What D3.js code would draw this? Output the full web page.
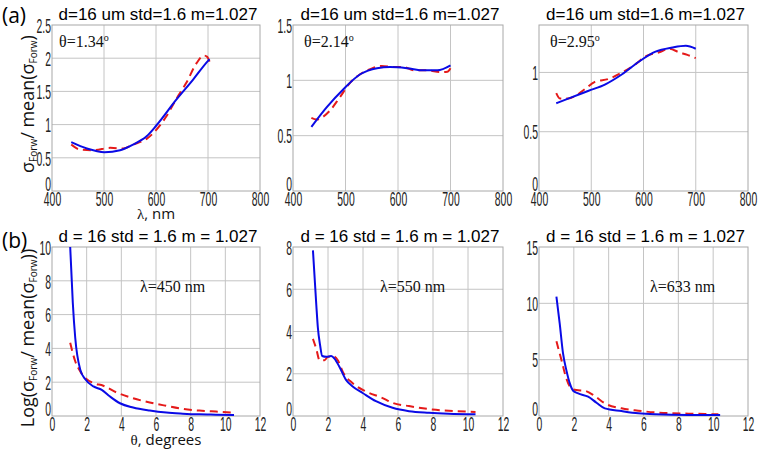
<!DOCTYPE html>
<html><head><meta charset="utf-8">
<script src="https://cdn.jsdelivr.net/npm/d3@7"></script>
<style>
body{margin:0;background:#fff;}
svg{display:block;}
</style></head>
<body>
<script>
// ---------- data ----------
const titleTop = "d=16 um std=1.6 m=1.027";
const titleBottom = "d = 16 std = 1.6 m = 1.027";
const lambdaTicks = [400, 500, 600, 700, 800];
const thetaTicks = [0, 2, 4, 6, 8, 10, 12];
const yTicksA1 = [0, 0.5, 1, 1.5, 2, 2.5];
const yTicksA2 = [0, 0.5, 1, 1.5];
const yTicksA3 = [0, 0.5, 1];
const yTicksB1 = [0, 2, 4, 6, 8, 10];
const yTicksB2 = [0, 2, 4, 6, 8];
const yTicksB3 = [0, 5, 10, 15];
const annotA = ["1.34", "2.14", "2.95"];
const annotB = ["450", "550", "633"];

// (a) theta = 1.34
const blueLamA1 = [437, 467, 501, 531, 556, 582, 601, 639, 671, 700, 703];
const blueA1 = [0.735, 0.64, 0.585, 0.615, 0.70, 0.825, 0.99, 1.375, 1.675, 1.96, 1.985];
const redLamA1 = [437, 454, 480, 512, 537, 556, 582, 601, 620, 639, 658, 678, 692, 698, 703];
const redA1 = [0.70, 0.625, 0.615, 0.65, 0.64, 0.70, 0.785, 0.925, 1.125, 1.385, 1.625, 1.925, 2.04, 2.025, 1.95];
// (a) theta = 2.14
const blueLamA2 = [435, 464, 496, 528, 560, 585, 617, 649, 675, 700];
const blueA2 = [0.58, 0.756, 0.92, 1.055, 1.11, 1.12, 1.11, 1.09, 1.09, 1.135];
const redLamA2 = [435, 445, 457, 470, 489, 509, 528, 547, 569, 592, 611, 630, 656, 681, 694, 700];
const redA2 = [0.66, 0.645, 0.67, 0.725, 0.845, 0.98, 1.055, 1.10, 1.13, 1.12, 1.12, 1.09, 1.09, 1.075, 1.078, 1.11];
// (a) theta = 2.95
const blueLamA3 = [433, 462, 495, 527, 559, 591, 623, 655, 681, 700];
const blueA3 = [0.74, 0.79, 0.845, 0.90, 0.985, 1.09, 1.175, 1.21, 1.225, 1.20];
const redLamA3 = [433, 440, 456, 469, 488, 507, 533, 559, 585, 604, 630, 649, 668, 684, 700];
const redA3 = [0.825, 0.78, 0.78, 0.80, 0.86, 0.92, 0.945, 1.0, 1.07, 1.136, 1.17, 1.20, 1.17, 1.148, 1.12];

// (b) lambda = 450
const blueThB1 = [1.05, 1.2, 1.34, 1.63, 1.91, 2.39, 2.87, 3.35, 3.92, 4.68, 5.64, 6.6, 7.55, 8.5, 9.46, 10.5];
const blueB1 = [10.0, 6.7, 4.63, 2.74, 2.19, 1.75, 1.55, 1.15, 0.755, 0.50, 0.32, 0.2, 0.14, 0.10, 0.08, 0.06];
const redThB1 = [1.05, 1.34, 1.63, 1.91, 2.39, 2.96, 3.73, 4.68, 5.64, 6.6, 7.55, 8.5, 9.46, 10.5];
const redB1 = [4.33, 3.24, 2.64, 2.25, 1.95, 1.79, 1.39, 1.05, 0.80, 0.60, 0.42, 0.32, 0.26, 0.20];
// (b) lambda = 550
const blueThB2 = [1.14, 1.33, 1.42, 1.55, 1.67, 1.9, 2.18, 2.37, 2.65, 3.03, 3.41, 3.98, 4.74, 5.69, 6.63, 7.77, 8.9, 10.43];
const blueB2 = [7.84, 5.28, 4.19, 3.34, 2.84, 2.80, 2.84, 2.72, 2.33, 1.71, 1.40, 1.09, 0.70, 0.39, 0.23, 0.155, 0.11, 0.08];
const redThB2 = [1.14, 1.33, 1.52, 1.8, 1.99, 2.27, 2.56, 2.84, 3.41, 4.17, 5.12, 5.69, 6.63, 7.96, 9.29, 10.43];
const redB2 = [3.65, 3.18, 2.64, 2.64, 2.80, 2.83, 2.64, 2.10, 1.55, 1.16, 0.85, 0.62, 0.47, 0.31, 0.23, 0.19];
// (b) lambda = 633
const blueThB3 = [1.0, 1.19, 1.38, 1.57, 1.77, 1.96, 2.25, 2.82, 3.3, 3.78, 4.74, 5.7, 6.66, 8.58, 10.4];
const blueB3 = [10.6, 8.2, 5.55, 4.07, 2.89, 2.24, 2.0, 1.71, 1.18, 0.68, 0.44, 0.24, 0.15, 0.09, 0.09];
const redThB3 = [1.0, 1.29, 1.57, 1.86, 2.15, 2.63, 3.2, 3.78, 4.74, 5.7, 6.66, 7.62, 8.58, 9.54, 10.3];
const redB3 = [6.64, 4.96, 3.33, 2.45, 2.30, 2.24, 1.77, 1.12, 0.68, 0.47, 0.32, 0.24, 0.21, 0.18, 0.15];

// ---------- layout ----------
const W = 762, H = 450;
const cols = [[52, 260], [293, 503], [539, 748]];
const rowTop = [25, 191], rowBot = [247, 416];
const BLUE = "#0a0ae6", RED = "#e51a1a";
const GRID = "#c4c4c4", FRAME = "#a8a8a8";
const SX = 0.52;

const svg = d3.select("body").append("svg").attr("width", W).attr("height", H)
  .style("font-family", "'Liberation Sans', Arial, sans-serif");

function panel(opt) {
  const [x0, x1] = opt.col, [y0, y1] = opt.row;
  const x = d3.scaleLinear().domain(opt.xDomain).range([x0, x1]);
  const y = d3.scaleLinear().domain(opt.yDomain).range([y1, y0]);
  const g = svg.append("g");
  // grid
  g.append("g").selectAll("line").data(opt.xTicks.filter(t => t > opt.xDomain[0] && t < opt.xDomain[1]))
    .join("line").attr("x1", d => x(d)).attr("x2", d => x(d)).attr("y1", y0).attr("y2", y1)
    .attr("stroke", GRID).attr("stroke-width", 1);
  g.append("g").selectAll("line").data(opt.yTicks.filter(t => t > opt.yDomain[0] && t < opt.yDomain[1]))
    .join("line").attr("x1", x0).attr("x2", x1).attr("y1", d => y(d)).attr("y2", d => y(d))
    .attr("stroke", GRID).attr("stroke-width", 1);
  // frame
  g.append("rect").attr("x", x0).attr("y", y0).attr("width", x1 - x0).attr("height", y1 - y0)
    .attr("fill", "none").attr("stroke", FRAME).attr("stroke-width", 1);
  // axes
  const ax = g.append("g").attr("transform", `translate(0,${y1})`)
    .call(d3.axisBottom(x).tickValues(opt.xTicks).tickSize(0).tickPadding(1).tickFormat(d3.format("")));
  const ay = g.append("g").attr("transform", `translate(${x0},0)`)
    .call(d3.axisLeft(y).tickValues(opt.yTicks).tickSize(0).tickPadding(1 / SX).tickFormat(d3.format("")));
  [ax, ay].forEach(a => {
    a.select(".domain").remove();
    a.selectAll("text").attr("font-family", "'Liberation Sans', Arial, sans-serif")
      .attr("font-size", 20).attr("fill", "#222").attr("transform", `scale(${SX},1)`);
  });
  ax.selectAll("text").attr("dy", "0.72em");
  ay.selectAll("text").attr("dy", d => d === opt.yDomain[0] ? "-0.05em" : "0.36em");
  // lines
  const line = d3.line().x(d => x(d[0])).y(d => y(d[1])).curve(d3.curveMonotoneX);
  g.append("path").datum(d3.zip(opt.redX, opt.redY)).attr("d", line)
    .attr("fill", "none").attr("stroke", RED).attr("stroke-width", 2).attr("stroke-dasharray", "8,5");
  g.append("path").datum(d3.zip(opt.blueX, opt.blueY)).attr("d", line)
    .attr("fill", "none").attr("stroke", BLUE).attr("stroke-width", 2);
  // title
  svg.append("text").attr("x", (x0 + x1) / 2 + 2).attr("y", y0 - 5).attr("text-anchor", "middle")
    .attr("font-size", 17).attr("fill", "#000").text(opt.title);
  return {x, y};
}

// (a) row
const a1 = panel({col: cols[0], row: rowTop, xDomain: [400, 800], yDomain: [0, 2.5], xTicks: lambdaTicks, yTicks: yTicksA1,
  blueX: blueLamA1, blueY: blueA1, redX: redLamA1, redY: redA1, title: titleTop});
const a2 = panel({col: cols[1], row: rowTop, xDomain: [400, 800], yDomain: [0, 1.5], xTicks: lambdaTicks, yTicks: yTicksA2,
  blueX: blueLamA2, blueY: blueA2, redX: redLamA2, redY: redA2, title: titleTop});
const a3 = panel({col: cols[2], row: rowTop, xDomain: [400, 800], yDomain: [0, 1.4], xTicks: lambdaTicks, yTicks: yTicksA3,
  blueX: blueLamA3, blueY: blueA3, redX: redLamA3, redY: redA3, title: titleTop});
// (b) row
const b1 = panel({col: cols[0], row: rowBot, xDomain: [0, 12], yDomain: [0, 10], xTicks: thetaTicks, yTicks: yTicksB1,
  blueX: blueThB1, blueY: blueB1, redX: redThB1, redY: redB1, title: titleBottom});
const b2 = panel({col: cols[1], row: rowBot, xDomain: [0, 12], yDomain: [0, 8], xTicks: thetaTicks, yTicks: yTicksB2,
  blueX: blueThB2, blueY: blueB2, redX: redThB2, redY: redB2, title: titleBottom});
const b3 = panel({col: cols[2], row: rowBot, xDomain: [0, 12], yDomain: [0, 15], xTicks: thetaTicks, yTicks: yTicksB3,
  blueX: blueThB3, blueY: blueB3, redX: redThB3, redY: redB3, title: titleBottom});

// panel letters
svg.append("text").attr("x", 2).attr("y", 23).attr("font-family", "'Open Sans', sans-serif").attr("font-size", 21).text("(a)");
svg.append("text").attr("x", 2).attr("y", 248).attr("font-family", "'Open Sans', sans-serif").attr("font-size", 21).text("(b)");

// annotations (a)
[a1, a2, a3].forEach((p, i) => {
  const t = svg.append("text").attr("x", cols[i][0] + 7 + (i === 0 ? 0 : 4)).attr("y", rowTop[0] + 22)
    .attr("font-family", "'Liberation Serif', 'Times New Roman', serif").attr("font-size", 16).attr("fill", "#111");
  t.append("tspan").text("θ=" + annotA[i]);
  t.append("tspan").attr("font-size", 10).attr("dy", -6).text("o");
});
// annotations (b)
const annotBx = [140, 380, 650];
[b1, b2, b3].forEach((p, i) => {
  svg.append("text").attr("x", annotBx[i]).attr("y", 292)
    .attr("font-family", "'Liberation Serif', 'Times New Roman', serif").attr("font-size", 16).attr("fill", "#111")
    .text("λ=" + annotB[i] + " nm");
});

// axis titles
function sigmaLabel(sel, prefix, suffix) {
  if (prefix) sel.append("tspan").text(prefix);
  sel.append("tspan").text("σ");
  sel.append("tspan").attr("font-size", 10).attr("dy", 3).text("Forw");
  sel.append("tspan").attr("dy", -3).text("/ mean(σ");
  sel.append("tspan").attr("font-size", 10).attr("dy", 3).text("Forw");
  sel.append("tspan").attr("dy", -3).text(")" + suffix);
}
const yl1 = svg.append("text").attr("transform", "translate(34,104) rotate(-90)").attr("text-anchor", "middle")
  .attr("font-family", "'Open Sans', sans-serif").attr("font-size", 18).attr("fill", "#111");
sigmaLabel(yl1, "", "");
const yl2 = svg.append("text").attr("transform", "translate(34,338) rotate(-90)").attr("text-anchor", "middle")
  .attr("font-family", "'Open Sans', sans-serif").attr("font-size", 18).attr("fill", "#111");
sigmaLabel(yl2, "Log(", ")");

const xl1 = svg.append("text").attr("x", 156).attr("y", 219).attr("text-anchor", "middle")
  .attr("font-family", "'Open Sans', sans-serif").attr("font-size", 15).attr("fill", "#111");
xl1.append("tspan").attr("font-family", "'Liberation Serif', serif").text("λ");
xl1.append("tspan").text(", nm");
const xl2 = svg.append("text").attr("x", 166).attr("y", 445).attr("text-anchor", "middle")
  .attr("font-family", "'Open Sans', sans-serif").attr("font-size", 15).attr("fill", "#111");
xl2.append("tspan").attr("font-family", "'Liberation Serif', serif").text("θ");
xl2.append("tspan").text(", degrees");
</script>
</body></html>
